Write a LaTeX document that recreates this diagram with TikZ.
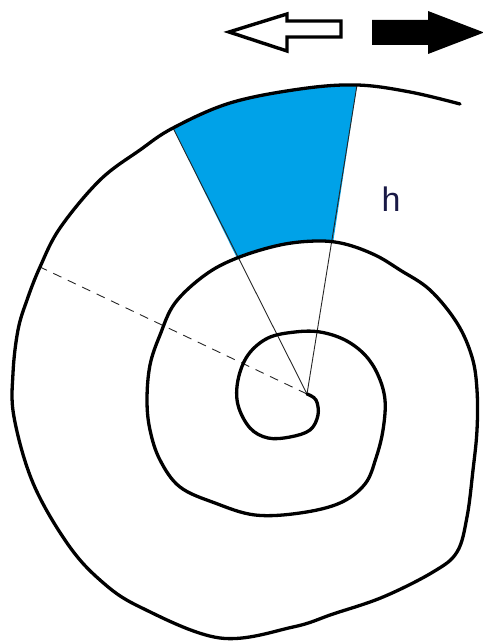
\documentclass[tikz,border=0pt]{standalone}
\usepackage{fontspec}
\setmainfont{Liberation Sans}
\definecolor{paintblue}{RGB}{0,162,232}
\definecolor{hcol}{RGB}{25,25,70}
\begin{document}
\begin{tikzpicture}[x=1pt,y=-1pt,
  spiral/.style={line width=3.3pt, line cap=round, line join=round},
  ray/.style={line width=0.9pt, draw=black!85},
  dashray/.style={ray, dash pattern=on 9pt off 7pt},
  sector/.style={fill=paintblue},
  hollowarrow/.style={line width=3.4pt, draw=black, fill=white, line join=miter},
  solidarrow/.style={fill=black}]
\useasboundingbox (0,0) rectangle (482,644);
\coordinate (c) at (307,394);
\coordinate (oL) at (173,128);
\coordinate (oR) at (357,85);
\coordinate (iL) at (237,258);
\coordinate (iR) at (333,243);
\coordinate (d) at (40,267);
% blue sector
\fill[sector] plot[smooth, tension=0.6] coordinates {(173,128) (230,103) (300,89) (357,85)}
  -- plot[smooth, tension=0.6] coordinates {(333,243) (317,241) (280,245) (237,258)} -- cycle;
% rays
\draw[ray] (c) -- (oL);
\draw[ray] (c) -- (oR);
\draw[dashray] (c) -- (d);
% spiral
\draw[spiral] plot[smooth, tension=0.6] coordinates {
(307,394) (316,400) (318,415) (310,430) (290,437) (268,438) (250,428) (238,405)
(238,380) (248,355) (268,338) (295,332) (320,332) (345,340) (365,355) (378,375)
(385,400) (383,430) (376,458) (365,484) (340,503) (300,513) (255,515) (215,503)
(180,487) (160,460) (150,430) (147,400) (150,365) (160,335) (175,303) (205,275)
(237,258) (280,245) (317,241) (345,244) (375,255) (400,270) (430,290) (457,323)
(472,357) (477,390) (477,430) (473,470) (467,517) (457,552) (433,572) (383,597)
(333,614) (293,627) (220,638) (140,607) (100,580) (67,543) (33,483) (14,417)
(13,373) (18,330) (27,300) (40,267) (60,228) (100,180) (140,150) (173,128)
(230,103) (300,89) (357,85) (410,92) (460,104)};
% label
\node[font=\fontsize{34}{34}\selectfont, text=hcol, inner sep=0pt] (h) at (391,199) {h};
% arrows
\draw[hollowarrow] (229,32) -- (287,14) -- (287,21) -- (341,21) -- (341,37) -- (287,37) -- (287,51) -- cycle;
\fill[solidarrow] (372,20) -- (428,20) -- (428,11) -- (484,32.5) -- (428,54) -- (428,45) -- (372,45) -- cycle;
\end{tikzpicture}
\end{document}
